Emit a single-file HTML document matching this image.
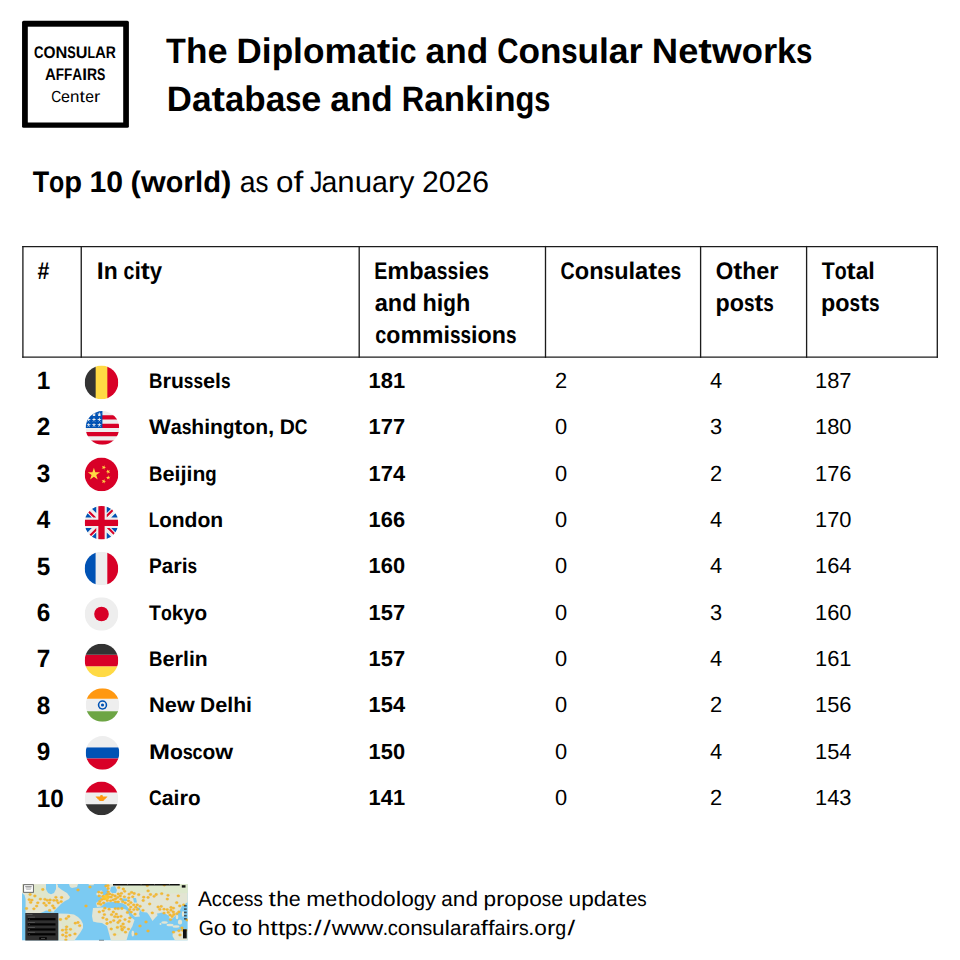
<!DOCTYPE html>
<html><head><meta charset="utf-8"><title>Diplomatic and Consular Networks - Top 10 (world)</title>
<style>
html,body{margin:0;padding:0;background:#fff;}
body{width:960px;height:960px;overflow:hidden;position:relative;font-family:"Liberation Sans",sans-serif;}
svg{position:absolute;left:0;top:0;}
svg text{font-family:"Liberation Sans",sans-serif;fill:#000;white-space:pre;text-rendering:geometricPrecision;}
</style></head><body>
<svg width="960" height="960" viewBox="0 0 960 960">
<rect x="22.05" y="20.85" width="106.85" height="106.95" rx="1.6" fill="#000"/><rect x="27.8" y="26.7" width="95.4" height="95.8" fill="#fff"/>
<g stroke="#1c1c1c" stroke-width="1.33" stroke-linecap="square">
<line x1="22.9" y1="246.6" x2="937.3" y2="246.6"/>
<line x1="22.9" y1="357.2" x2="937.3" y2="357.2"/>
<line x1="22.9" y1="246.6" x2="22.9" y2="357.2"/>
<line x1="81.25" y1="246.6" x2="81.25" y2="357.2"/>
<line x1="359.2" y1="246.6" x2="359.2" y2="357.2"/>
<line x1="545.5" y1="246.6" x2="545.5" y2="357.2"/>
<line x1="700.6" y1="246.6" x2="700.6" y2="357.2"/>
<line x1="806.6" y1="246.6" x2="806.6" y2="357.2"/>
<line x1="937.3" y1="246.6" x2="937.3" y2="357.2"/>
</g>
<defs><clipPath id="fc"><circle cx="256" cy="256" r="256"/></clipPath></defs>
<g transform="translate(84.70,365.60) scale(0.06563)"><g clip-path="url(#fc)"><path fill="#333" d="M0 0h167l32 256-32 256H0z"/><path fill="#d80027" d="M345 0h167v512H345l-32-256z"/><path fill="#ffda44" d="M167 0h178v512H167z"/></g></g>
<g transform="translate(85.60,411.10) scale(0.06563)"><g clip-path="url(#fc)"><path fill="#eee" d="M0 0h512v512H0z"/><path fill="#d80027" d="M224 64h288v64H224Zm0 128h288v64H224ZM0 320h512v64H0Zm0 128h512v64H0Z"/><path fill="#0052b4" d="M0 0h256v256H0Z"/><path fill="#eee" d="m187 243 57-41h-70l57 41-22-67zm-81 0 57-41H93l57 41-22-67zm-81 0 57-41H12l57 41-22-67zm162-81 57-41h-70l57 41-22-67zm-81 0 57-41H93l57 41-22-67zm-81 0 57-41H12l57 41-22-67Zm162-82 57-41h-70l57 41-22-67Zm-81 0 57-41H93l57 41-22-67zm-81 0 57-41H12l57 41-22-67Z"/></g></g>
<g transform="translate(84.70,457.60) scale(0.06563)"><g clip-path="url(#fc)"><path fill="#d80027" d="M0 0h512v512H0z"/><path fill="#ffda44" d="m140.1 155.8 22.1 68h71.5l-57.8 42.1 22.1 68-57.9-42-57.9 42 22.2-68-57.9-42.1H118zm163.4 240.7-16.9-20.8-25 9.7 14.5-22.5-16.9-20.9 25.9 6.9 14.6-22.5 1.4 26.8 26 6.9-25.1 9.6zm33.6-61 8-25.6-21.9-15.5 26.8-.4 7.9-25.6 8.7 25.4 26.8-.3-21.5 16 8.6 25.4-21.9-15.5zm45.3-147.6L370.6 212l19.2 18.7-26.5-3.8-11.8 24-4.6-26.4-26.6-3.8 23.8-12.5-4.6-26.5 19.2 18.7zm-78.2-73-2 26.7 24.9 10.1-26.1 6.4-1.9 26.8-14.1-22.8-26.1 6.4 17.3-20.5-14.2-22.7 24.9 10.1z"/></g></g>
<g transform="translate(84.70,506.00) scale(0.06563)"><g clip-path="url(#fc)"><path fill="#eee" d="M0 0h512v512H0z"/><path fill="#0052b4" d="M336 0v108L444 0Zm176 68L404 176h108zM0 176h108L0 68ZM68 0l108 108V0Zm108 512V404L68 512ZM0 444l108-108H0Zm512-108H404l108 108Zm-68 176L336 404v108z"/><path fill="#d80027" d="M0 0v45l131 131h45L0 0zm208 0v208H0v96h208v208h96V304h208v-96H304V0h-96zm259 0L336 131v45L512 0h-45zM176 336 0 512h45l131-131v-45zm160 0 176 176v-45L381 336h-45z"/></g></g>
<g transform="translate(84.65,551.70) scale(0.06563)"><g clip-path="url(#fc)"><path fill="#eee" d="M167 0h178v512H167z"/><path fill="#0052b4" d="M0 0h167v512H0z"/><path fill="#d80027" d="M345 0h167v512H345z"/></g></g>
<g transform="translate(84.70,597.20) scale(0.06563)"><g clip-path="url(#fc)"><path fill="#eee" d="M0 0h512v512H0z"/><circle cx="256" cy="256" r="111.3" fill="#d80027"/></g></g>
<g transform="translate(84.70,643.70) scale(0.06563)"><g clip-path="url(#fc)"><path fill="#ffda44" d="M0 345h512v167H0z"/><path fill="#d80027" d="M0 167h512v178H0z"/><path fill="#333" d="M0 0h512v167H0z"/></g></g>
<g transform="translate(85.70,688.20) scale(0.06563)"><g clip-path="url(#fc)"><path fill="#eee" d="M0 160h512v192H0z"/><path fill="#ff9811" d="M0 0h512v160H0Z"/><path fill="#6da544" d="M0 352h512v160H0z"/><circle cx="256" cy="256" r="72" fill="#0052b4"/><circle cx="256" cy="256" r="48" fill="#eee"/><circle cx="256" cy="256" r="24" fill="#0052b4"/></g></g>
<g transform="translate(85.70,736.10) scale(0.06563)"><g clip-path="url(#fc)"><path fill="#0052b4" d="M0 170h512v172H0z"/><path fill="#eee" d="M512 0v170H0V0Z"/><path fill="#d80027" d="M512 342v170H0V342Z"/></g></g>
<g transform="translate(84.70,781.60) scale(0.06563)"><g clip-path="url(#fc)"><path fill="#eee" d="M0 167h512v178H0z"/><path fill="#d80027" d="M0 0h512v167H0z"/><path fill="#333" d="M0 345h512v167H0z"/><path fill="#ff9811" d="M345 228.2h-66.8a22.3 22.3 0 0 0-44.6 0H167c0 12.3 10.7 22.3 23 22.3h-.7c0 12.3 10 22.2 22.3 22.2 0 12.3 10 22.3 22.2 22.3h44.6c12.3 0 22.3-10 22.3-22.3 12.3 0 22.2-9.9 22.2-22.2h-.7c12.3 0 23-10 23-22.3z"/></g></g>
<g transform="translate(22.0,884.0)">
<defs><clipPath id="mapc"><rect x="0" y="0" width="165.8" height="56.6"/></clipPath></defs>
<g clip-path="url(#mapc)">
<rect x="0" y="0" width="165.8" height="56.6" fill="#7bcaf2"/>
<polygon points="0.0,0.0 24.0,0.0 24.0,6.0 26.0,9.0 29.0,10.3 32.0,9.0 34.0,5.0 34.0,0.0 36.0,0.0 36.0,3.0 40.0,6.0 45.0,9.0 48.0,13.0 47.0,15.0 43.0,17.0 39.0,20.0 36.0,23.0 33.0,26.0 31.5,28.0 28.0,27.0 24.0,26.5 21.0,28.0 17.0,29.5 3.6,29.5 3.6,15.0 2.5,11.0 0.0,9.0" fill="#e3e5d3"/>
<polygon points="47.0,0.0 56.0,0.0 55.0,3.0 50.0,4.0 48.0,3.0" fill="#e3e5d3"/>
<polygon points="66.5,0.0 72.0,0.0 71.5,1.3 67.0,1.3" fill="#e3e5d3"/>
<polygon points="29.0,28.5 34.0,29.0 36.0,30.5 31.0,30.0" fill="#e3e5d3"/>
<polygon points="36.3,29.5 46.0,29.8 52.0,30.5 56.0,33.0 59.0,36.0 61.0,40.0 61.0,44.0 58.0,49.0 55.0,53.0 52.0,57.0 36.3,57.0" fill="#e3e5d3"/>
<polygon points="85.0,0.0 165.9,0.0 165.9,18.0 160.0,22.0 157.0,28.0 154.0,31.0 151.0,34.0 148.0,36.0 147.0,32.0 144.0,30.0 141.0,29.0 139.0,28.4 134.0,33.0 130.5,37.0 127.0,31.0 125.0,28.4 120.0,28.0 118.0,26.0 117.0,30.0 118.0,32.6 113.0,33.0 110.0,30.0 107.0,25.0 104.0,21.0 100.0,19.5 92.0,18.0 86.0,18.5 82.0,20.0 79.0,22.5 75.0,23.0 74.0,19.0 78.0,16.0 80.0,13.0 83.0,11.0 86.0,10.0 85.0,6.0 84.0,3.0" fill="#e3e5d3"/>
<polygon points="71.0,24.0 80.0,23.5 88.0,24.0 95.0,24.0 101.0,24.5 105.0,26.0 108.0,30.0 110.0,34.0 112.5,36.0 110.4,42.3 107.0,48.0 104.3,57.0 89.0,57.0 85.0,42.3 80.0,39.0 75.0,38.5 71.0,37.5 70.0,32.0" fill="#e3e5d3"/>
<polygon points="76.5,7.0 80.0,6.5 81.0,9.0 80.5,12.7 77.0,12.5 76.5,10.0" fill="#e3e5d3"/>
<polygon points="151.0,48.0 158.0,46.5 165.9,45.5 165.9,56.6 153.0,56.6 150.5,52.0" fill="#e3e5d3"/>
<ellipse cx="110.8" cy="49.5" rx="1.3" ry="3.0" fill="#e3e5d3"/>
<ellipse cx="142.5" cy="38.5" rx="3.2" ry="1.2" fill="#e3e5d3"/>
<ellipse cx="148" cy="41" rx="3.5" ry="1.3" fill="#e3e5d3"/>
<ellipse cx="154" cy="42.5" rx="3.5" ry="1.2" fill="#e3e5d3"/>
<ellipse cx="158" cy="38" rx="2.2" ry="2.5" fill="#e3e5d3"/>
<ellipse cx="155" cy="33" rx="1.3" ry="2.2" fill="#e3e5d3"/>
<ellipse cx="161" cy="30" rx="1.2" ry="3.0" fill="#e3e5d3"/>
<ellipse cx="75.5" cy="10" rx="1.2" ry="1.5" fill="#e3e5d3"/>
<ellipse cx="138.5" cy="40" rx="1.0" ry="1.0" fill="#e3e5d3"/>
<polygon points="96,0 165.9,0 165.9,9 140,9.5 120,8.5 104,8 98,5" fill="#dbe8cb" opacity="0.9"/>
<polygon points="3,2 22,1 27,11 30,14 18,16 6,14" fill="#dde7c8" opacity="0.7"/>
<polygon points="38,34 52,36 56,42 50,50 42,48" fill="#dde7c8" opacity="0.7"/>
<polygon points="88,40 100,38 104,46 96,52 90,50" fill="#dde7c8" opacity="0.7"/>
<polygon points="35.0,0.0 47.0,0.0 46.0,2.5 41.0,3.2 37.0,2.5" fill="#7bcaf2"/>
<polygon points="89.0,3.0 93.0,2.0 95.0,6.0 94.0,9.0 90.0,9.0 88.0,7.0" fill="#7bcaf2"/>
<polygon points="81.0,5.5 86.0,4.5 86.0,9.0 84.0,10.5 81.0,10.5" fill="#7bcaf2"/>
<polygon points="83.0,18.6 92.0,18.2 101.0,19.5 104.0,22.0 101.0,24.0 95.0,23.6 88.0,23.6 84.0,22.0" fill="#7bcaf2"/>
<polygon points="99.0,14.5 105.0,14.5 105.5,17.0 99.5,17.0" fill="#7bcaf2"/>
<polygon points="111.0,14.0 114.0,14.0 115.0,18.5 112.0,18.5" fill="#7bcaf2"/>
<polygon points="104.0,25.5 106.0,25.5 110.5,33.8 109.0,34.2" fill="#7bcaf2"/>
<polygon points="114.5,23.0 118.0,24.0 118.5,26.5 116.0,26.0" fill="#7bcaf2"/>
<polygon points="135.0,29.5 139.0,29.0 140.0,34.0 137.0,36.0" fill="#7bcaf2"/>
<ellipse cx="79.7" cy="15.5" rx="1.45" ry="1.15" fill="#f2bd2e" stroke="#eba43a" stroke-width="0.35"/>
<ellipse cx="93.0" cy="11.9" rx="1.45" ry="1.15" fill="#f2bd2e" stroke="#eba43a" stroke-width="0.35"/>
<ellipse cx="79.7" cy="8.8" rx="1.45" ry="1.15" fill="#f2bd2e" stroke="#eba43a" stroke-width="0.35"/>
<ellipse cx="91.2" cy="15.9" rx="1.45" ry="1.15" fill="#f2bd2e" stroke="#eba43a" stroke-width="0.35"/>
<ellipse cx="96.2" cy="17.9" rx="1.45" ry="1.15" fill="#f2bd2e" stroke="#eba43a" stroke-width="0.35"/>
<ellipse cx="86.4" cy="12.9" rx="1.45" ry="1.15" fill="#f2bd2e" stroke="#eba43a" stroke-width="0.35"/>
<ellipse cx="102.4" cy="12.8" rx="1.45" ry="1.15" fill="#f2bd2e" stroke="#eba43a" stroke-width="0.35"/>
<ellipse cx="88.6" cy="16.8" rx="1.45" ry="1.15" fill="#f2bd2e" stroke="#eba43a" stroke-width="0.35"/>
<ellipse cx="93.6" cy="14.8" rx="1.45" ry="1.15" fill="#f2bd2e" stroke="#eba43a" stroke-width="0.35"/>
<ellipse cx="82.3" cy="14.9" rx="1.45" ry="1.15" fill="#f2bd2e" stroke="#eba43a" stroke-width="0.35"/>
<ellipse cx="106.8" cy="13.8" rx="1.45" ry="1.15" fill="#f2bd2e" stroke="#eba43a" stroke-width="0.35"/>
<ellipse cx="85.3" cy="16.6" rx="1.45" ry="1.15" fill="#f2bd2e" stroke="#eba43a" stroke-width="0.35"/>
<ellipse cx="87.6" cy="10.0" rx="1.45" ry="1.15" fill="#f2bd2e" stroke="#eba43a" stroke-width="0.35"/>
<ellipse cx="90.4" cy="10.8" rx="1.45" ry="1.15" fill="#f2bd2e" stroke="#eba43a" stroke-width="0.35"/>
<ellipse cx="98.2" cy="12.0" rx="1.45" ry="1.15" fill="#f2bd2e" stroke="#eba43a" stroke-width="0.35"/>
<ellipse cx="80.9" cy="12.4" rx="1.45" ry="1.15" fill="#f2bd2e" stroke="#eba43a" stroke-width="0.35"/>
<ellipse cx="96.3" cy="10.0" rx="1.45" ry="1.15" fill="#f2bd2e" stroke="#eba43a" stroke-width="0.35"/>
<ellipse cx="86.1" cy="4.5" rx="1.45" ry="1.15" fill="#f2bd2e" stroke="#eba43a" stroke-width="0.35"/>
<ellipse cx="78.8" cy="20.4" rx="1.45" ry="1.15" fill="#f2bd2e" stroke="#eba43a" stroke-width="0.35"/>
<ellipse cx="95.7" cy="13.3" rx="1.45" ry="1.15" fill="#f2bd2e" stroke="#eba43a" stroke-width="0.35"/>
<ellipse cx="77.3" cy="27.9" rx="1.45" ry="1.15" fill="#f2bd2e" stroke="#eba43a" stroke-width="0.35"/>
<ellipse cx="86.2" cy="7.8" rx="1.45" ry="1.15" fill="#f2bd2e" stroke="#eba43a" stroke-width="0.35"/>
<ellipse cx="81.6" cy="18.9" rx="1.45" ry="1.15" fill="#f2bd2e" stroke="#eba43a" stroke-width="0.35"/>
<ellipse cx="77.8" cy="17.5" rx="1.45" ry="1.15" fill="#f2bd2e" stroke="#eba43a" stroke-width="0.35"/>
<ellipse cx="76.8" cy="8.1" rx="1.45" ry="1.15" fill="#f2bd2e" stroke="#eba43a" stroke-width="0.35"/>
<ellipse cx="89.1" cy="13.1" rx="1.45" ry="1.15" fill="#f2bd2e" stroke="#eba43a" stroke-width="0.35"/>
<ellipse cx="77.2" cy="11.9" rx="1.45" ry="1.15" fill="#f2bd2e" stroke="#eba43a" stroke-width="0.35"/>
<ellipse cx="85.0" cy="10.7" rx="1.45" ry="1.15" fill="#f2bd2e" stroke="#eba43a" stroke-width="0.35"/>
<ellipse cx="91.3" cy="28.0" rx="1.45" ry="1.15" fill="#f2bd2e" stroke="#eba43a" stroke-width="0.35"/>
<ellipse cx="96.8" cy="3.7" rx="1.45" ry="1.15" fill="#f2bd2e" stroke="#eba43a" stroke-width="0.35"/>
<ellipse cx="100.7" cy="17.7" rx="1.45" ry="1.15" fill="#f2bd2e" stroke="#eba43a" stroke-width="0.35"/>
<ellipse cx="87.1" cy="25.2" rx="1.45" ry="1.15" fill="#f2bd2e" stroke="#eba43a" stroke-width="0.35"/>
<ellipse cx="99.4" cy="9.4" rx="1.45" ry="1.15" fill="#f2bd2e" stroke="#eba43a" stroke-width="0.35"/>
<ellipse cx="86.0" cy="1.7" rx="1.45" ry="1.15" fill="#f2bd2e" stroke="#eba43a" stroke-width="0.35"/>
<ellipse cx="82.9" cy="24.2" rx="1.45" ry="1.15" fill="#f2bd2e" stroke="#eba43a" stroke-width="0.35"/>
<ellipse cx="93.5" cy="17.8" rx="1.45" ry="1.15" fill="#f2bd2e" stroke="#eba43a" stroke-width="0.35"/>
<ellipse cx="102.7" cy="7.3" rx="1.45" ry="1.15" fill="#f2bd2e" stroke="#eba43a" stroke-width="0.35"/>
<ellipse cx="101.3" cy="5.0" rx="1.45" ry="1.15" fill="#f2bd2e" stroke="#eba43a" stroke-width="0.35"/>
<ellipse cx="106.5" cy="16.8" rx="1.45" ry="1.15" fill="#f2bd2e" stroke="#eba43a" stroke-width="0.35"/>
<ellipse cx="76.4" cy="19.7" rx="1.45" ry="1.15" fill="#f2bd2e" stroke="#eba43a" stroke-width="0.35"/>
<ellipse cx="103.2" cy="18.9" rx="1.45" ry="1.15" fill="#f2bd2e" stroke="#eba43a" stroke-width="0.35"/>
<ellipse cx="98.9" cy="15.2" rx="1.45" ry="1.15" fill="#f2bd2e" stroke="#eba43a" stroke-width="0.35"/>
<ellipse cx="108.8" cy="23.1" rx="1.45" ry="1.15" fill="#f2bd2e" stroke="#eba43a" stroke-width="0.35"/>
<ellipse cx="93.3" cy="24.6" rx="1.45" ry="1.15" fill="#f2bd2e" stroke="#eba43a" stroke-width="0.35"/>
<ellipse cx="96.2" cy="24.7" rx="1.45" ry="1.15" fill="#f2bd2e" stroke="#eba43a" stroke-width="0.35"/>
<ellipse cx="106.4" cy="20.6" rx="1.45" ry="1.15" fill="#f2bd2e" stroke="#eba43a" stroke-width="0.35"/>
<ellipse cx="99.9" cy="24.5" rx="1.45" ry="1.15" fill="#f2bd2e" stroke="#eba43a" stroke-width="0.35"/>
<ellipse cx="108.9" cy="18.7" rx="1.45" ry="1.15" fill="#f2bd2e" stroke="#eba43a" stroke-width="0.35"/>
<ellipse cx="110.7" cy="12.8" rx="1.45" ry="1.15" fill="#f2bd2e" stroke="#eba43a" stroke-width="0.35"/>
<ellipse cx="111.8" cy="25.6" rx="1.45" ry="1.15" fill="#f2bd2e" stroke="#eba43a" stroke-width="0.35"/>
<ellipse cx="4.5" cy="24.5" rx="1.45" ry="1.15" fill="#f2bd2e" stroke="#eba43a" stroke-width="0.35"/>
<ellipse cx="32.1" cy="24.0" rx="1.45" ry="1.15" fill="#f2bd2e" stroke="#eba43a" stroke-width="0.35"/>
<ellipse cx="28.1" cy="16.0" rx="1.45" ry="1.15" fill="#f2bd2e" stroke="#eba43a" stroke-width="0.35"/>
<ellipse cx="27.6" cy="26.4" rx="1.45" ry="1.15" fill="#f2bd2e" stroke="#eba43a" stroke-width="0.35"/>
<ellipse cx="39.2" cy="17.6" rx="1.45" ry="1.15" fill="#f2bd2e" stroke="#eba43a" stroke-width="0.35"/>
<ellipse cx="36.2" cy="18.8" rx="1.45" ry="1.15" fill="#f2bd2e" stroke="#eba43a" stroke-width="0.35"/>
<ellipse cx="22.9" cy="15.3" rx="1.45" ry="1.15" fill="#f2bd2e" stroke="#eba43a" stroke-width="0.35"/>
<ellipse cx="25.3" cy="16.3" rx="1.45" ry="1.15" fill="#f2bd2e" stroke="#eba43a" stroke-width="0.35"/>
<ellipse cx="12.9" cy="12.0" rx="1.45" ry="1.15" fill="#f2bd2e" stroke="#eba43a" stroke-width="0.35"/>
<ellipse cx="39.6" cy="13.5" rx="1.45" ry="1.15" fill="#f2bd2e" stroke="#eba43a" stroke-width="0.35"/>
<ellipse cx="15.8" cy="18.8" rx="1.45" ry="1.15" fill="#f2bd2e" stroke="#eba43a" stroke-width="0.35"/>
<ellipse cx="24.0" cy="21.4" rx="1.45" ry="1.15" fill="#f2bd2e" stroke="#eba43a" stroke-width="0.35"/>
<ellipse cx="18.4" cy="15.1" rx="1.45" ry="1.15" fill="#f2bd2e" stroke="#eba43a" stroke-width="0.35"/>
<ellipse cx="27.2" cy="18.9" rx="1.45" ry="1.15" fill="#f2bd2e" stroke="#eba43a" stroke-width="0.35"/>
<ellipse cx="11.9" cy="24.8" rx="1.45" ry="1.15" fill="#f2bd2e" stroke="#eba43a" stroke-width="0.35"/>
<ellipse cx="22.0" cy="19.2" rx="1.45" ry="1.15" fill="#f2bd2e" stroke="#eba43a" stroke-width="0.35"/>
<ellipse cx="33.9" cy="13.3" rx="1.45" ry="1.15" fill="#f2bd2e" stroke="#eba43a" stroke-width="0.35"/>
<ellipse cx="34.8" cy="16.5" rx="1.45" ry="1.15" fill="#f2bd2e" stroke="#eba43a" stroke-width="0.35"/>
<ellipse cx="7.2" cy="15.7" rx="1.45" ry="1.15" fill="#f2bd2e" stroke="#eba43a" stroke-width="0.35"/>
<ellipse cx="31.8" cy="16.3" rx="1.45" ry="1.15" fill="#f2bd2e" stroke="#eba43a" stroke-width="0.35"/>
<ellipse cx="9.9" cy="16.1" rx="1.45" ry="1.15" fill="#f2bd2e" stroke="#eba43a" stroke-width="0.35"/>
<ellipse cx="20.8" cy="5.5" rx="1.45" ry="1.15" fill="#f2bd2e" stroke="#eba43a" stroke-width="0.35"/>
<ellipse cx="30.7" cy="21.8" rx="1.45" ry="1.15" fill="#f2bd2e" stroke="#eba43a" stroke-width="0.35"/>
<ellipse cx="14.6" cy="22.1" rx="1.45" ry="1.15" fill="#f2bd2e" stroke="#eba43a" stroke-width="0.35"/>
<ellipse cx="8.7" cy="18.4" rx="1.45" ry="1.15" fill="#f2bd2e" stroke="#eba43a" stroke-width="0.35"/>
<ellipse cx="8.1" cy="10.5" rx="1.45" ry="1.15" fill="#f2bd2e" stroke="#eba43a" stroke-width="0.35"/>
<ellipse cx="38.4" cy="35.5" rx="1.45" ry="1.15" fill="#f2bd2e" stroke="#eba43a" stroke-width="0.35"/>
<ellipse cx="48.5" cy="45.3" rx="1.45" ry="1.15" fill="#f2bd2e" stroke="#eba43a" stroke-width="0.35"/>
<ellipse cx="44.3" cy="34.6" rx="1.45" ry="1.15" fill="#f2bd2e" stroke="#eba43a" stroke-width="0.35"/>
<ellipse cx="56.0" cy="38.5" rx="1.45" ry="1.15" fill="#f2bd2e" stroke="#eba43a" stroke-width="0.35"/>
<ellipse cx="44.1" cy="45.6" rx="1.45" ry="1.15" fill="#f2bd2e" stroke="#eba43a" stroke-width="0.35"/>
<ellipse cx="57.7" cy="41.7" rx="1.45" ry="1.15" fill="#f2bd2e" stroke="#eba43a" stroke-width="0.35"/>
<ellipse cx="44.3" cy="48.7" rx="1.45" ry="1.15" fill="#f2bd2e" stroke="#eba43a" stroke-width="0.35"/>
<ellipse cx="53.0" cy="49.9" rx="1.45" ry="1.15" fill="#f2bd2e" stroke="#eba43a" stroke-width="0.35"/>
<ellipse cx="40.5" cy="46.2" rx="1.45" ry="1.15" fill="#f2bd2e" stroke="#eba43a" stroke-width="0.35"/>
<ellipse cx="40.8" cy="51.0" rx="1.45" ry="1.15" fill="#f2bd2e" stroke="#eba43a" stroke-width="0.35"/>
<ellipse cx="47.9" cy="51.2" rx="1.45" ry="1.15" fill="#f2bd2e" stroke="#eba43a" stroke-width="0.35"/>
<ellipse cx="43.9" cy="55.9" rx="1.45" ry="1.15" fill="#f2bd2e" stroke="#eba43a" stroke-width="0.35"/>
<ellipse cx="53.3" cy="39.2" rx="1.45" ry="1.15" fill="#f2bd2e" stroke="#eba43a" stroke-width="0.35"/>
<ellipse cx="46.6" cy="32.5" rx="1.45" ry="1.15" fill="#f2bd2e" stroke="#eba43a" stroke-width="0.35"/>
<ellipse cx="44.6" cy="42.8" rx="1.45" ry="1.15" fill="#f2bd2e" stroke="#eba43a" stroke-width="0.35"/>
<ellipse cx="44.1" cy="52.4" rx="1.45" ry="1.15" fill="#f2bd2e" stroke="#eba43a" stroke-width="0.35"/>
<ellipse cx="89.5" cy="30.7" rx="1.45" ry="1.15" fill="#f2bd2e" stroke="#eba43a" stroke-width="0.35"/>
<ellipse cx="88.5" cy="38.2" rx="1.45" ry="1.15" fill="#f2bd2e" stroke="#eba43a" stroke-width="0.35"/>
<ellipse cx="99.0" cy="32.3" rx="1.45" ry="1.15" fill="#f2bd2e" stroke="#eba43a" stroke-width="0.35"/>
<ellipse cx="85.0" cy="39.5" rx="1.45" ry="1.15" fill="#f2bd2e" stroke="#eba43a" stroke-width="0.35"/>
<ellipse cx="82.4" cy="30.6" rx="1.45" ry="1.15" fill="#f2bd2e" stroke="#eba43a" stroke-width="0.35"/>
<ellipse cx="101.1" cy="40.0" rx="1.45" ry="1.15" fill="#f2bd2e" stroke="#eba43a" stroke-width="0.35"/>
<ellipse cx="107.0" cy="37.6" rx="1.45" ry="1.15" fill="#f2bd2e" stroke="#eba43a" stroke-width="0.35"/>
<ellipse cx="103.0" cy="35.6" rx="1.45" ry="1.15" fill="#f2bd2e" stroke="#eba43a" stroke-width="0.35"/>
<ellipse cx="95.4" cy="43.4" rx="1.45" ry="1.15" fill="#f2bd2e" stroke="#eba43a" stroke-width="0.35"/>
<ellipse cx="99.2" cy="42.3" rx="1.45" ry="1.15" fill="#f2bd2e" stroke="#eba43a" stroke-width="0.35"/>
<ellipse cx="92.8" cy="32.7" rx="1.45" ry="1.15" fill="#f2bd2e" stroke="#eba43a" stroke-width="0.35"/>
<ellipse cx="100.2" cy="46.0" rx="1.45" ry="1.15" fill="#f2bd2e" stroke="#eba43a" stroke-width="0.35"/>
<ellipse cx="81.2" cy="26.8" rx="1.45" ry="1.15" fill="#f2bd2e" stroke="#eba43a" stroke-width="0.35"/>
<ellipse cx="92.6" cy="50.6" rx="1.45" ry="1.15" fill="#f2bd2e" stroke="#eba43a" stroke-width="0.35"/>
<ellipse cx="113.0" cy="30.2" rx="1.45" ry="1.15" fill="#f2bd2e" stroke="#eba43a" stroke-width="0.35"/>
<ellipse cx="81.0" cy="33.8" rx="1.45" ry="1.15" fill="#f2bd2e" stroke="#eba43a" stroke-width="0.35"/>
<ellipse cx="106.5" cy="45.1" rx="1.45" ry="1.15" fill="#f2bd2e" stroke="#eba43a" stroke-width="0.35"/>
<ellipse cx="89.2" cy="45.0" rx="1.45" ry="1.15" fill="#f2bd2e" stroke="#eba43a" stroke-width="0.35"/>
<ellipse cx="102.2" cy="43.3" rx="1.45" ry="1.15" fill="#f2bd2e" stroke="#eba43a" stroke-width="0.35"/>
<ellipse cx="96.0" cy="38.5" rx="1.45" ry="1.15" fill="#f2bd2e" stroke="#eba43a" stroke-width="0.35"/>
<ellipse cx="84.7" cy="35.5" rx="1.45" ry="1.15" fill="#f2bd2e" stroke="#eba43a" stroke-width="0.35"/>
<ellipse cx="94.3" cy="30.1" rx="1.45" ry="1.15" fill="#f2bd2e" stroke="#eba43a" stroke-width="0.35"/>
<ellipse cx="95.8" cy="33.0" rx="1.45" ry="1.15" fill="#f2bd2e" stroke="#eba43a" stroke-width="0.35"/>
<ellipse cx="91.7" cy="36.6" rx="1.45" ry="1.15" fill="#f2bd2e" stroke="#eba43a" stroke-width="0.35"/>
<ellipse cx="103.5" cy="48.2" rx="1.45" ry="1.15" fill="#f2bd2e" stroke="#eba43a" stroke-width="0.35"/>
<ellipse cx="97.8" cy="36.7" rx="1.45" ry="1.15" fill="#f2bd2e" stroke="#eba43a" stroke-width="0.35"/>
<ellipse cx="107.9" cy="33.9" rx="1.45" ry="1.15" fill="#f2bd2e" stroke="#eba43a" stroke-width="0.35"/>
<ellipse cx="115.4" cy="25.5" rx="1.45" ry="1.15" fill="#f2bd2e" stroke="#eba43a" stroke-width="0.35"/>
<ellipse cx="109.2" cy="28.1" rx="1.45" ry="1.15" fill="#f2bd2e" stroke="#eba43a" stroke-width="0.35"/>
<ellipse cx="118.1" cy="22.3" rx="1.45" ry="1.15" fill="#f2bd2e" stroke="#eba43a" stroke-width="0.35"/>
<ellipse cx="111.7" cy="20.9" rx="1.45" ry="1.15" fill="#f2bd2e" stroke="#eba43a" stroke-width="0.35"/>
<ellipse cx="121.0" cy="26.3" rx="1.45" ry="1.15" fill="#f2bd2e" stroke="#eba43a" stroke-width="0.35"/>
<ellipse cx="115.2" cy="20.9" rx="1.45" ry="1.15" fill="#f2bd2e" stroke="#eba43a" stroke-width="0.35"/>
<ellipse cx="113.7" cy="23.2" rx="1.45" ry="1.15" fill="#f2bd2e" stroke="#eba43a" stroke-width="0.35"/>
<ellipse cx="107.6" cy="25.6" rx="1.45" ry="1.15" fill="#f2bd2e" stroke="#eba43a" stroke-width="0.35"/>
<ellipse cx="105.4" cy="28.5" rx="1.45" ry="1.15" fill="#f2bd2e" stroke="#eba43a" stroke-width="0.35"/>
<ellipse cx="151.5" cy="24.1" rx="1.45" ry="1.15" fill="#f2bd2e" stroke="#eba43a" stroke-width="0.35"/>
<ellipse cx="142.0" cy="25.2" rx="1.45" ry="1.15" fill="#f2bd2e" stroke="#eba43a" stroke-width="0.35"/>
<ellipse cx="136.1" cy="23.0" rx="1.45" ry="1.15" fill="#f2bd2e" stroke="#eba43a" stroke-width="0.35"/>
<ellipse cx="139.2" cy="22.4" rx="1.45" ry="1.15" fill="#f2bd2e" stroke="#eba43a" stroke-width="0.35"/>
<ellipse cx="116.7" cy="10.7" rx="1.45" ry="1.15" fill="#f2bd2e" stroke="#eba43a" stroke-width="0.35"/>
<ellipse cx="139.7" cy="9.7" rx="1.45" ry="1.15" fill="#f2bd2e" stroke="#eba43a" stroke-width="0.35"/>
<ellipse cx="145.3" cy="15.1" rx="1.45" ry="1.15" fill="#f2bd2e" stroke="#eba43a" stroke-width="0.35"/>
<ellipse cx="128.5" cy="10.5" rx="1.45" ry="1.15" fill="#f2bd2e" stroke="#eba43a" stroke-width="0.35"/>
<ellipse cx="130.3" cy="28.9" rx="1.45" ry="1.15" fill="#f2bd2e" stroke="#eba43a" stroke-width="0.35"/>
<ellipse cx="121.7" cy="13.2" rx="1.45" ry="1.15" fill="#f2bd2e" stroke="#eba43a" stroke-width="0.35"/>
<ellipse cx="157.8" cy="21.9" rx="1.45" ry="1.15" fill="#f2bd2e" stroke="#eba43a" stroke-width="0.35"/>
<ellipse cx="146.0" cy="11.3" rx="1.45" ry="1.15" fill="#f2bd2e" stroke="#eba43a" stroke-width="0.35"/>
<ellipse cx="121.2" cy="16.5" rx="1.45" ry="1.15" fill="#f2bd2e" stroke="#eba43a" stroke-width="0.35"/>
<ellipse cx="132.1" cy="12.3" rx="1.45" ry="1.15" fill="#f2bd2e" stroke="#eba43a" stroke-width="0.35"/>
<ellipse cx="154.7" cy="18.7" rx="1.45" ry="1.15" fill="#f2bd2e" stroke="#eba43a" stroke-width="0.35"/>
<ellipse cx="127.7" cy="20.0" rx="1.45" ry="1.15" fill="#f2bd2e" stroke="#eba43a" stroke-width="0.35"/>
<ellipse cx="156.3" cy="11.9" rx="1.45" ry="1.15" fill="#f2bd2e" stroke="#eba43a" stroke-width="0.35"/>
<ellipse cx="134.2" cy="10.5" rx="1.45" ry="1.15" fill="#f2bd2e" stroke="#eba43a" stroke-width="0.35"/>
<ellipse cx="137.8" cy="25.4" rx="1.45" ry="1.15" fill="#f2bd2e" stroke="#eba43a" stroke-width="0.35"/>
<ellipse cx="126.1" cy="13.4" rx="1.45" ry="1.15" fill="#f2bd2e" stroke="#eba43a" stroke-width="0.35"/>
<ellipse cx="149.0" cy="23.4" rx="1.45" ry="1.15" fill="#f2bd2e" stroke="#eba43a" stroke-width="0.35"/>
<ellipse cx="145.2" cy="25.6" rx="1.45" ry="1.15" fill="#f2bd2e" stroke="#eba43a" stroke-width="0.35"/>
<ellipse cx="148.0" cy="31.0" rx="1.45" ry="1.15" fill="#f2bd2e" stroke="#eba43a" stroke-width="0.35"/>
<ellipse cx="142.0" cy="29.1" rx="1.45" ry="1.15" fill="#f2bd2e" stroke="#eba43a" stroke-width="0.35"/>
<ellipse cx="151.3" cy="27.9" rx="1.45" ry="1.15" fill="#f2bd2e" stroke="#eba43a" stroke-width="0.35"/>
<ellipse cx="149.0" cy="26.2" rx="1.45" ry="1.15" fill="#f2bd2e" stroke="#eba43a" stroke-width="0.35"/>
<ellipse cx="156.9" cy="27.9" rx="1.45" ry="1.15" fill="#f2bd2e" stroke="#eba43a" stroke-width="0.35"/>
<ellipse cx="146.3" cy="28.4" rx="1.45" ry="1.15" fill="#f2bd2e" stroke="#eba43a" stroke-width="0.35"/>
<ellipse cx="154.9" cy="29.7" rx="1.45" ry="1.15" fill="#f2bd2e" stroke="#eba43a" stroke-width="0.35"/>
<ellipse cx="151.8" cy="30.5" rx="1.45" ry="1.15" fill="#f2bd2e" stroke="#eba43a" stroke-width="0.35"/>
<ellipse cx="161.7" cy="20.8" rx="1.45" ry="1.15" fill="#f2bd2e" stroke="#eba43a" stroke-width="0.35"/>
<ellipse cx="150.1" cy="32.5" rx="1.45" ry="1.15" fill="#f2bd2e" stroke="#eba43a" stroke-width="0.35"/>
<ellipse cx="148.5" cy="35.6" rx="1.45" ry="1.15" fill="#f2bd2e" stroke="#eba43a" stroke-width="0.35"/>
<ellipse cx="160.6" cy="46.3" rx="1.45" ry="1.15" fill="#f2bd2e" stroke="#eba43a" stroke-width="0.35"/>
<ellipse cx="156.9" cy="46.8" rx="1.45" ry="1.15" fill="#f2bd2e" stroke="#eba43a" stroke-width="0.35"/>
<ellipse cx="151.5" cy="48.2" rx="1.45" ry="1.15" fill="#f2bd2e" stroke="#eba43a" stroke-width="0.35"/>
<ellipse cx="163.7" cy="46.3" rx="1.45" ry="1.15" fill="#f2bd2e" stroke="#eba43a" stroke-width="0.35"/>
<ellipse cx="125.3" cy="1.6" rx="1.45" ry="1.15" fill="#f2bd2e" stroke="#eba43a" stroke-width="0.35"/>
<ellipse cx="109.6" cy="8.4" rx="1.45" ry="1.15" fill="#f2bd2e" stroke="#eba43a" stroke-width="0.35"/>
<ellipse cx="142.3" cy="1.1" rx="1.45" ry="1.15" fill="#f2bd2e" stroke="#eba43a" stroke-width="0.35"/>
<ellipse cx="126.1" cy="6.9" rx="1.45" ry="1.15" fill="#f2bd2e" stroke="#eba43a" stroke-width="0.35"/>
<ellipse cx="107.1" cy="10.1" rx="1.45" ry="1.15" fill="#f2bd2e" stroke="#eba43a" stroke-width="0.35"/>
<ellipse cx="112.2" cy="9.5" rx="1.45" ry="1.15" fill="#f2bd2e" stroke="#eba43a" stroke-width="0.35"/>
<ellipse cx="64.0" cy="22.0" rx="1.45" ry="1.15" fill="#f2bd2e" stroke="#eba43a" stroke-width="0.35"/>
<ellipse cx="56.0" cy="6.0" rx="1.45" ry="1.15" fill="#f2bd2e" stroke="#eba43a" stroke-width="0.35"/>
<ellipse cx="68.0" cy="3.0" rx="1.45" ry="1.15" fill="#f2bd2e" stroke="#eba43a" stroke-width="0.35"/>
<ellipse cx="84.0" cy="2.0" rx="1.45" ry="1.15" fill="#f2bd2e" stroke="#eba43a" stroke-width="0.35"/>
<ellipse cx="100.0" cy="45.0" rx="1.45" ry="1.15" fill="#f2bd2e" stroke="#eba43a" stroke-width="0.35"/>
<ellipse cx="118.0" cy="42.0" rx="1.45" ry="1.15" fill="#f2bd2e" stroke="#eba43a" stroke-width="0.35"/>
<ellipse cx="114.0" cy="50.0" rx="1.45" ry="1.15" fill="#f2bd2e" stroke="#eba43a" stroke-width="0.35"/>
<ellipse cx="160.0" cy="44.0" rx="1.45" ry="1.15" fill="#f2bd2e" stroke="#eba43a" stroke-width="0.35"/>
<ellipse cx="158.0" cy="51.0" rx="1.45" ry="1.15" fill="#f2bd2e" stroke="#eba43a" stroke-width="0.35"/>
<ellipse cx="165.0" cy="36.0" rx="1.45" ry="1.15" fill="#f2bd2e" stroke="#eba43a" stroke-width="0.35"/>
<ellipse cx="124.0" cy="38.0" rx="1.45" ry="1.15" fill="#f2bd2e" stroke="#eba43a" stroke-width="0.35"/>
<ellipse cx="126.0" cy="47.0" rx="1.45" ry="1.15" fill="#f2bd2e" stroke="#eba43a" stroke-width="0.35"/>
<ellipse cx="84" cy="13.5" rx="3.5" ry="2.4" fill="#fbc52a" opacity="0.9"/>
<rect x="1.6" y="0.7" width="9.8" height="7.6" fill="#fff" stroke="#5a5a5a" stroke-width="0.9"/>
<rect x="3.2" y="2.2" width="6.5" height="0.7" fill="#777"/><rect x="3.6" y="3.6" width="5.8" height="0.7" fill="#777"/><rect x="4.2" y="5.4" width="4.6" height="0.6" fill="#aaa"/>
<rect x="91" y="0" width="66.7" height="1.5" fill="#111"/>
<rect x="105.2" y="0" width="0.5" height="1.5" fill="#777"/>
<rect x="118.8" y="0" width="0.5" height="1.5" fill="#777"/>
<rect x="132.3" y="0" width="0.5" height="1.5" fill="#777"/>
<rect x="147.1" y="0" width="0.5" height="1.5" fill="#777"/>
<rect x="159.8" y="1.2" width="3.7" height="2.4" fill="#111"/>
<rect x="162" y="21" width="2.7" height="1.6" fill="#333" opacity="0.8"/>
<rect x="162" y="24.3" width="2.7" height="1.6" fill="#333" opacity="0.8"/>
<rect x="162" y="27.6" width="2.7" height="1.6" fill="#333" opacity="0.8"/>
<rect x="162" y="30.9" width="2.7" height="1.6" fill="#333" opacity="0.8"/>
<rect x="162" y="34" width="2.7" height="1.6" fill="#333" opacity="0.8"/>
<rect x="161" y="45.3" width="3.7" height="9.1" fill="#111"/>
<rect x="77" y="55.9" width="5" height="0.8" fill="#222"/>
<rect x="3.3" y="29" width="33" height="28" fill="#303030"/>
<rect x="4.5" y="30" width="6" height="0.6" fill="#888" opacity="0.7"/>
<rect x="5.7" y="34.1" width="27.8" height="2.2" fill="#030303"/>
<rect x="5.9" y="32.800000000000004" width="7" height="0.6" fill="#999" opacity="0.55"/>
<rect x="6.8" y="34.9" width="1" height="0.6" fill="#aaa" opacity="0.6"/>
<rect x="5.7" y="39.3" width="27.8" height="2.2" fill="#030303"/>
<rect x="5.9" y="38.0" width="7" height="0.6" fill="#999" opacity="0.55"/>
<rect x="6.8" y="40.099999999999994" width="1" height="0.6" fill="#aaa" opacity="0.6"/>
<rect x="5.7" y="44.4" width="27.8" height="2.2" fill="#030303"/>
<rect x="5.9" y="43.1" width="7" height="0.6" fill="#999" opacity="0.55"/>
<rect x="6.8" y="45.199999999999996" width="1" height="0.6" fill="#aaa" opacity="0.6"/>
<rect x="5.7" y="49.2" width="27.8" height="2.2" fill="#030303"/>
<rect x="5.9" y="47.900000000000006" width="7" height="0.6" fill="#999" opacity="0.55"/>
<rect x="6.8" y="50.0" width="1" height="0.6" fill="#aaa" opacity="0.6"/>
<rect x="17.2" y="53.2" width="7.6" height="2.4" fill="#050505"/>
<rect x="19" y="54.2" width="4" height="0.5" fill="#bbb" opacity="0.7"/>
</g></g>
<g font-size="16.8" font-weight="bold"><text transform="translate(33.90 58.30) scale(0.7834 1)">C</text><text transform="translate(43.39 58.30) scale(0.9193 1)">O</text><text transform="translate(55.39 58.30) scale(0.9749 1)">N</text><text transform="translate(67.21 58.30) scale(0.7575 1)">S</text><text transform="translate(75.69 58.30) scale(0.9663 1)">U</text><text transform="translate(87.40 58.30) scale(0.7399 1)">L</text><text transform="translate(94.98 58.30) scale(0.8969 1)">A</text><text transform="translate(105.85 58.30) scale(0.8333 1)">R</text></g>
<g font-size="16.8" font-weight="bold"><text transform="translate(45.00 80.30) scale(0.8966 1)">A</text><text transform="translate(55.87 80.30) scale(0.8029 1)">F</text><text transform="translate(64.10 80.30) scale(0.8029 1)">F</text><text transform="translate(72.33 80.30) scale(0.8127 1)">A</text><text transform="translate(82.21 80.30) scale(1.0089 1)">I</text><text transform="translate(86.96 80.30) scale(0.8330 1)">R</text><text transform="translate(97.05 80.30) scale(0.7416 1)">S</text></g>
<g font-size="16.2" font-weight="normal"><text transform="translate(51.20 102.15) scale(0.8526 1)">C</text><text transform="translate(60.96 102.15) scale(0.9913 1)">e</text><text transform="translate(69.89 102.15) scale(1.0467 1)">n</text><text transform="translate(79.52 102.15) scale(1.2037 1)">t</text><text transform="translate(85.15 102.15) scale(0.9698 1)">e</text><text transform="translate(93.88 102.15) scale(1.1600 1)">r</text></g>
<g font-size="35.4" font-weight="bold"><text transform="translate(166.10 62.90) scale(0.9165 1)">T</text><text transform="translate(185.91 62.90) scale(0.9933 1)">h</text><text transform="translate(207.39 62.90) scale(1.0235 1)">e</text><text transform="translate(232.05 62.90)"> </text><text transform="translate(236.58 62.90) scale(0.9870 1)">D</text><text transform="translate(261.80 62.90) scale(0.9995 1)">i</text><text transform="translate(271.63 62.90) scale(0.9933 1)">p</text><text transform="translate(293.10 62.90) scale(0.9995 1)">l</text><text transform="translate(302.93 62.90) scale(0.9951 1)">o</text><text transform="translate(324.44 62.90) scale(1.0344 1)">m</text><text transform="translate(356.99 62.90) scale(1.0036 1)">a</text><text transform="translate(376.75 62.90) scale(1.1456 1)">t</text><text transform="translate(390.25 62.90) scale(0.9717 1)">i</text><text transform="translate(399.80 62.90) scale(0.8507 1)">c</text><text transform="translate(421.07 62.90)"> </text><text transform="translate(425.60 62.90) scale(1.0036 1)">a</text><text transform="translate(445.35 62.90) scale(0.9933 1)">n</text><text transform="translate(466.82 62.90) scale(0.9933 1)">d</text><text transform="translate(492.82 62.90)"> </text><text transform="translate(497.28 62.90) scale(0.8333 1)">C</text><text transform="translate(518.52 62.90) scale(0.9951 1)">o</text><text transform="translate(540.03 62.90) scale(0.9933 1)">n</text><text transform="translate(561.29 62.90) scale(0.8333 1)">s</text><text transform="translate(577.47 62.90) scale(0.9933 1)">u</text><text transform="translate(598.94 62.90) scale(0.9995 1)">l</text><text transform="translate(608.77 62.90) scale(1.0036 1)">a</text><text transform="translate(628.53 62.90) scale(1.0328 1)">r</text><text transform="translate(647.27 62.90)"> </text><text transform="translate(651.80 62.90) scale(1.0313 1)">N</text><text transform="translate(678.16 62.90) scale(1.0235 1)">e</text><text transform="translate(698.30 62.90) scale(1.1539 1)">t</text><text transform="translate(711.90 62.90) scale(1.0831 1)">w</text><text transform="translate(741.72 62.90) scale(0.9797 1)">o</text><text transform="translate(762.90 62.90) scale(1.0328 1)">r</text><text transform="translate(777.12 62.90) scale(0.9758 1)">k</text><text transform="translate(795.94 62.90) scale(0.8333 1)">s</text></g>
<g font-size="35.4" font-weight="bold"><text transform="translate(166.76 110.90) scale(0.9829 1)">D</text><text transform="translate(191.88 110.90) scale(0.9995 1)">a</text><text transform="translate(211.55 110.90) scale(1.1409 1)">t</text><text transform="translate(225.00 110.90) scale(0.9797 1)">a</text><text transform="translate(244.28 110.90) scale(0.9892 1)">b</text><text transform="translate(265.67 110.90) scale(0.9995 1)">a</text><text transform="translate(285.25 110.90) scale(0.8167 1)">s</text><text transform="translate(301.24 110.90) scale(1.0193 1)">e</text><text transform="translate(325.81 110.90)"> </text><text transform="translate(330.31 110.90) scale(0.9995 1)">a</text><text transform="translate(349.98 110.90) scale(0.9892 1)">n</text><text transform="translate(371.37 110.90) scale(0.9892 1)">d</text><text transform="translate(397.26 110.90)"> </text><text transform="translate(401.76 110.90) scale(0.8779 1)">R</text><text transform="translate(424.20 110.90) scale(0.9995 1)">a</text><text transform="translate(443.87 110.90) scale(0.9892 1)">n</text><text transform="translate(465.26 110.90) scale(0.9718 1)">k</text><text transform="translate(484.39 110.90) scale(0.9954 1)">i</text><text transform="translate(494.18 110.90) scale(0.9892 1)">n</text><text transform="translate(515.56 110.90) scale(0.8740 1)">g</text><text transform="translate(534.37 110.90) scale(0.8167 1)">s</text></g>
<g font-size="29.7" font-weight="bold"><text transform="translate(32.80 191.60) scale(0.9056 1)">T</text><text transform="translate(49.08 191.60) scale(0.8408 1)">o</text><text transform="translate(64.19 191.60) scale(0.9816 1)">p</text><text transform="translate(85.74 191.60)"> </text><text transform="translate(89.49 191.60) scale(1.0182 1)">1</text><text transform="translate(106.30 191.60) scale(1.0182 1)">0</text><text transform="translate(126.86 191.60)"> </text><text transform="translate(130.61 191.60) scale(1.0452 1)">(</text><text transform="translate(140.94 191.60) scale(1.0703 1)">w</text><text transform="translate(165.66 191.60) scale(0.9682 1)">o</text><text transform="translate(183.22 191.60) scale(1.0206 1)">r</text><text transform="translate(195.01 191.60) scale(0.9877 1)">l</text><text transform="translate(203.15 191.60) scale(0.9816 1)">d</text><text transform="translate(220.95 191.60) scale(1.0452 1)">)</text></g>
<g font-size="29.7" font-weight="normal"><text transform="translate(239.70 191.60) scale(0.9587 1)">a</text><text transform="translate(255.53 191.60) scale(0.8707 1)">s</text><text transform="translate(272.19 191.60)"> </text><text transform="translate(275.92 191.60) scale(1.0554 1)">o</text><text transform="translate(293.51 191.60) scale(1.1844 1)">f</text><text transform="translate(307.17 191.60)"> </text><text transform="translate(309.95 191.60) scale(0.8389 1)">J</text><text transform="translate(321.44 191.60) scale(0.9587 1)">a</text><text transform="translate(337.27 191.60) scale(1.0515 1)">n</text><text transform="translate(354.63 191.60) scale(1.0515 1)">u</text><text transform="translate(371.99 191.60) scale(0.9587 1)">a</text><text transform="translate(387.82 191.60) scale(1.1653 1)">r</text><text transform="translate(399.34 191.60) scale(1.0185 1)">y</text><text transform="translate(418.20 191.60)"> </text><text transform="translate(421.93 191.60) scale(1.0144 1)">2</text><text transform="translate(438.68 191.60) scale(1.0144 1)">0</text><text transform="translate(455.43 191.60) scale(1.0144 1)">2</text><text transform="translate(472.18 191.60) scale(1.0144 1)">6</text></g>
<g font-size="24.08" font-weight="bold"><text transform="translate(37.50 278.90) scale(0.8852 1)">#</text></g>
<g font-size="24.08" font-weight="bold"><text transform="translate(96.72 279.00) scale(1.0370 1)">I</text><text transform="translate(103.66 279.00) scale(0.9494 1)">n</text><text transform="translate(120.57 279.00)"> </text><text transform="translate(123.51 279.00) scale(0.8132 1)">c</text><text transform="translate(134.40 279.00) scale(0.9554 1)">i</text><text transform="translate(140.79 279.00) scale(1.1251 1)">t</text><text transform="translate(149.81 279.00) scale(0.9204 1)">y</text></g>
<g font-size="24.08" font-weight="bold"><text transform="translate(374.29 278.90) scale(0.8141 1)">E</text><text transform="translate(387.37 278.90) scale(1.0184 1)">m</text><text transform="translate(409.17 278.90) scale(0.9779 1)">b</text><text transform="translate(423.55 278.90) scale(0.9880 1)">a</text><text transform="translate(436.79 278.90) scale(0.7985 1)">s</text><text transform="translate(447.48 278.90) scale(0.7985 1)">s</text><text transform="translate(458.17 278.90) scale(0.9840 1)">i</text><text transform="translate(464.75 278.90) scale(1.0076 1)">e</text><text transform="translate(478.25 278.90) scale(0.7985 1)">s</text></g>
<g font-size="24.08" font-weight="bold"><text transform="translate(374.70 310.80) scale(0.9827 1)">a</text><text transform="translate(387.86 310.80) scale(0.9726 1)">n</text><text transform="translate(402.16 310.80) scale(0.9726 1)">d</text><text transform="translate(419.48 310.80)"> </text><text transform="translate(422.49 310.80) scale(0.9726 1)">h</text><text transform="translate(436.80 310.80) scale(0.9787 1)">i</text><text transform="translate(443.35 310.80) scale(0.8593 1)">g</text><text transform="translate(455.98 310.80) scale(0.9726 1)">h</text></g>
<g font-size="24.08" font-weight="bold"><text transform="translate(375.30 342.70) scale(0.8258 1)">c</text><text transform="translate(386.36 342.70) scale(0.9572 1)">o</text><text transform="translate(400.44 342.70) scale(1.0041 1)">m</text><text transform="translate(421.93 342.70) scale(1.0041 1)">m</text><text transform="translate(443.43 342.70) scale(0.9702 1)">i</text><text transform="translate(449.92 342.70) scale(0.7873 1)">s</text><text transform="translate(460.46 342.70) scale(0.7873 1)">s</text><text transform="translate(471.01 342.70) scale(0.9702 1)">i</text><text transform="translate(477.50 342.70) scale(0.9659 1)">o</text><text transform="translate(491.70 342.70) scale(0.9642 1)">n</text><text transform="translate(505.89 342.70) scale(0.7873 1)">s</text></g>
<g font-size="24.08" font-weight="bold"><text transform="translate(560.60 278.90) scale(0.8143 1)">C</text><text transform="translate(574.76 278.90) scale(0.9778 1)">o</text><text transform="translate(589.14 278.90) scale(0.9760 1)">n</text><text transform="translate(603.50 278.90) scale(0.7969 1)">s</text><text transform="translate(614.17 278.90) scale(0.9760 1)">u</text><text transform="translate(628.52 278.90) scale(0.9821 1)">l</text><text transform="translate(635.09 278.90) scale(0.9862 1)">a</text><text transform="translate(648.34 278.90) scale(1.1145 1)">t</text><text transform="translate(657.32 278.90) scale(0.9813 1)">e</text><text transform="translate(670.46 278.90) scale(0.7969 1)">s</text></g>
<g font-size="24.08" font-weight="bold"><text transform="translate(715.80 278.90) scale(0.9360 1)">O</text><text transform="translate(733.33 278.90) scale(1.1208 1)">t</text><text transform="translate(742.32 278.90) scale(0.9458 1)">h</text><text transform="translate(756.23 278.90) scale(0.9745 1)">e</text><text transform="translate(769.28 278.90) scale(0.9834 1)">r</text></g>
<g font-size="24.08" font-weight="bold"><text transform="translate(715.51 310.90) scale(0.9656 1)">p</text><text transform="translate(729.71 310.90) scale(0.9673 1)">o</text><text transform="translate(743.94 310.90) scale(0.7884 1)">s</text><text transform="translate(754.56 310.90) scale(1.0917 1)">t</text><text transform="translate(763.37 310.90) scale(0.7884 1)">s</text></g>
<g font-size="24.08" font-weight="bold"><text transform="translate(821.70 278.90) scale(0.8843 1)">T</text><text transform="translate(834.67 278.90) scale(0.8103 1)">o</text><text transform="translate(846.56 278.90) scale(1.1357 1)">t</text><text transform="translate(855.66 278.90) scale(0.9492 1)">a</text><text transform="translate(868.37 278.90) scale(0.9644 1)">l</text></g>
<g font-size="24.08" font-weight="bold"><text transform="translate(821.00 310.90) scale(0.9690 1)">p</text><text transform="translate(835.26 310.90) scale(0.9708 1)">o</text><text transform="translate(849.53 310.90) scale(0.7912 1)">s</text><text transform="translate(860.19 310.90) scale(1.0956 1)">t</text><text transform="translate(869.04 310.90) scale(0.7912 1)">s</text></g>
<g font-size="24.91" font-weight="bold"><text transform="translate(36.80 388.90) scale(0.9754 1)">1</text></g>
<g font-size="21.12" font-weight="bold"><text transform="translate(149.00 387.80) scale(0.8825 1)">B</text><text transform="translate(162.45 387.80) scale(1.0385 1)">r</text><text transform="translate(170.98 387.80) scale(0.9988 1)">u</text><text transform="translate(183.86 387.80) scale(0.8155 1)">s</text><text transform="translate(193.44 387.80) scale(0.8155 1)">s</text><text transform="translate(203.01 387.80) scale(1.0291 1)">e</text><text transform="translate(215.09 387.80) scale(1.0051 1)">l</text><text transform="translate(220.99 387.80) scale(0.8155 1)">s</text></g>
<g font-size="21.79" font-weight="bold"><text transform="translate(368.60 387.80) scale(1.0042 1)">1</text><text transform="translate(380.76 387.80) scale(1.0042 1)">8</text><text transform="translate(392.93 387.80) scale(1.0042 1)">1</text></g>
<g font-size="21.79" font-weight="normal"><text transform="translate(555.10 387.80) scale(1.0042 1)">2</text></g>
<g font-size="21.79" font-weight="normal"><text transform="translate(709.90 387.80) scale(1.0042 1)">4</text></g>
<g font-size="21.79" font-weight="normal"><text transform="translate(815.00 387.80) scale(1.0042 1)">1</text><text transform="translate(827.16 387.80) scale(1.0042 1)">8</text><text transform="translate(839.33 387.80) scale(1.0042 1)">7</text></g>
<g font-size="24.91" font-weight="bold"><text transform="translate(36.80 435.32) scale(0.9754 1)">2</text></g>
<g font-size="21.12" font-weight="bold"><text transform="translate(149.00 434.15) scale(1.0916 1)">W</text><text transform="translate(170.75 434.15) scale(0.9353 1)">a</text><text transform="translate(181.64 434.15) scale(0.8304 1)">s</text><text transform="translate(191.30 434.15) scale(0.9988 1)">h</text><text transform="translate(204.18 434.15) scale(1.0051 1)">i</text><text transform="translate(210.08 434.15) scale(0.9988 1)">n</text><text transform="translate(222.96 434.15) scale(0.8825 1)">g</text><text transform="translate(234.34 434.15) scale(1.1586 1)">t</text><text transform="translate(242.48 434.15) scale(0.9824 1)">o</text><text transform="translate(255.15 434.15) scale(0.9988 1)">n</text><text transform="translate(268.03 434.15) scale(1.0550 1)">,</text><text transform="translate(276.93 434.15)"> </text><text transform="translate(279.64 434.15) scale(0.9924 1)">D</text><text transform="translate(294.77 434.15) scale(0.8333 1)">C</text></g>
<g font-size="21.79" font-weight="bold"><text transform="translate(368.60 434.15) scale(1.0042 1)">1</text><text transform="translate(380.76 434.15) scale(1.0042 1)">7</text><text transform="translate(392.93 434.15) scale(1.0042 1)">7</text></g>
<g font-size="21.79" font-weight="normal"><text transform="translate(555.10 434.15) scale(1.0042 1)">0</text></g>
<g font-size="21.79" font-weight="normal"><text transform="translate(709.90 434.15) scale(1.0042 1)">3</text></g>
<g font-size="21.79" font-weight="normal"><text transform="translate(815.00 434.15) scale(1.0042 1)">1</text><text transform="translate(827.16 434.15) scale(1.0042 1)">8</text><text transform="translate(839.33 434.15) scale(1.0042 1)">0</text></g>
<g font-size="24.91" font-weight="bold"><text transform="translate(36.80 481.74) scale(0.9754 1)">3</text></g>
<g font-size="21.12" font-weight="bold"><text transform="translate(149.00 480.50) scale(0.8825 1)">B</text><text transform="translate(162.45 480.50) scale(1.0291 1)">e</text><text transform="translate(174.54 480.50) scale(1.0051 1)">i</text><text transform="translate(180.43 480.50) scale(1.0450 1)">j</text><text transform="translate(186.56 480.50) scale(1.0051 1)">i</text><text transform="translate(192.45 480.50) scale(0.9988 1)">n</text><text transform="translate(205.33 480.50) scale(0.8825 1)">g</text></g>
<g font-size="21.79" font-weight="bold"><text transform="translate(368.60 480.50) scale(1.0042 1)">1</text><text transform="translate(380.76 480.50) scale(1.0042 1)">7</text><text transform="translate(392.93 480.50) scale(1.0042 1)">4</text></g>
<g font-size="21.79" font-weight="normal"><text transform="translate(555.10 480.50) scale(1.0042 1)">0</text></g>
<g font-size="21.79" font-weight="normal"><text transform="translate(709.90 480.50) scale(1.0042 1)">2</text></g>
<g font-size="21.79" font-weight="normal"><text transform="translate(815.00 480.50) scale(1.0042 1)">1</text><text transform="translate(827.16 480.50) scale(1.0042 1)">7</text><text transform="translate(839.33 480.50) scale(1.0042 1)">6</text></g>
<g font-size="24.91" font-weight="bold"><text transform="translate(36.80 528.16) scale(0.9754 1)">4</text></g>
<g font-size="21.12" font-weight="bold"><text transform="translate(148.82 526.85) scale(0.8154 1)">L</text><text transform="translate(159.15 526.85) scale(0.9715 1)">o</text><text transform="translate(171.68 526.85) scale(0.9988 1)">n</text><text transform="translate(184.55 526.85) scale(0.9988 1)">d</text><text transform="translate(197.43 526.85) scale(1.0006 1)">o</text><text transform="translate(210.34 526.85) scale(0.9988 1)">n</text></g>
<g font-size="21.79" font-weight="bold"><text transform="translate(368.60 526.85) scale(1.0042 1)">1</text><text transform="translate(380.76 526.85) scale(1.0042 1)">6</text><text transform="translate(392.93 526.85) scale(1.0042 1)">6</text></g>
<g font-size="21.79" font-weight="normal"><text transform="translate(555.10 526.85) scale(1.0042 1)">0</text></g>
<g font-size="21.79" font-weight="normal"><text transform="translate(709.90 526.85) scale(1.0042 1)">4</text></g>
<g font-size="21.79" font-weight="normal"><text transform="translate(815.00 526.85) scale(1.0042 1)">1</text><text transform="translate(827.16 526.85) scale(1.0042 1)">7</text><text transform="translate(839.33 526.85) scale(1.0042 1)">0</text></g>
<g font-size="24.91" font-weight="bold"><text transform="translate(36.80 574.58) scale(0.9754 1)">5</text></g>
<g font-size="21.12" font-weight="bold"><text transform="translate(149.00 573.20) scale(0.9072 1)">P</text><text transform="translate(161.77 573.20) scale(0.9692 1)">a</text><text transform="translate(173.15 573.20) scale(1.0385 1)">r</text><text transform="translate(181.68 573.20) scale(1.0051 1)">i</text><text transform="translate(187.58 573.20) scale(0.8155 1)">s</text></g>
<g font-size="21.79" font-weight="bold"><text transform="translate(368.60 573.20) scale(1.0042 1)">1</text><text transform="translate(380.76 573.20) scale(1.0042 1)">6</text><text transform="translate(392.93 573.20) scale(1.0042 1)">0</text></g>
<g font-size="21.79" font-weight="normal"><text transform="translate(555.10 573.20) scale(1.0042 1)">0</text></g>
<g font-size="21.79" font-weight="normal"><text transform="translate(709.90 573.20) scale(1.0042 1)">4</text></g>
<g font-size="21.79" font-weight="normal"><text transform="translate(815.00 573.20) scale(1.0042 1)">1</text><text transform="translate(827.16 573.20) scale(1.0042 1)">6</text><text transform="translate(839.33 573.20) scale(1.0042 1)">4</text></g>
<g font-size="24.91" font-weight="bold"><text transform="translate(36.80 621.00) scale(0.9754 1)">6</text></g>
<g font-size="21.12" font-weight="bold"><text transform="translate(149.00 619.55) scale(0.9215 1)">T</text><text transform="translate(160.88 619.55) scale(0.8398 1)">o</text><text transform="translate(171.71 619.55) scale(0.9812 1)">k</text><text transform="translate(183.23 619.55) scale(0.9682 1)">y</text><text transform="translate(194.60 619.55) scale(0.9806 1)">o</text></g>
<g font-size="21.79" font-weight="bold"><text transform="translate(368.60 619.55) scale(1.0042 1)">1</text><text transform="translate(380.76 619.55) scale(1.0042 1)">5</text><text transform="translate(392.93 619.55) scale(1.0042 1)">7</text></g>
<g font-size="21.79" font-weight="normal"><text transform="translate(555.10 619.55) scale(1.0042 1)">0</text></g>
<g font-size="21.79" font-weight="normal"><text transform="translate(709.90 619.55) scale(1.0042 1)">3</text></g>
<g font-size="21.79" font-weight="normal"><text transform="translate(815.00 619.55) scale(1.0042 1)">1</text><text transform="translate(827.16 619.55) scale(1.0042 1)">6</text><text transform="translate(839.33 619.55) scale(1.0042 1)">0</text></g>
<g font-size="24.91" font-weight="bold"><text transform="translate(36.80 667.42) scale(0.9754 1)">7</text></g>
<g font-size="21.12" font-weight="bold"><text transform="translate(149.00 665.90) scale(0.8825 1)">B</text><text transform="translate(162.45 665.90) scale(1.0291 1)">e</text><text transform="translate(174.54 665.90) scale(1.0385 1)">r</text><text transform="translate(183.07 665.90) scale(1.0051 1)">l</text><text transform="translate(188.96 665.90) scale(1.0051 1)">i</text><text transform="translate(194.86 665.90) scale(0.9988 1)">n</text></g>
<g font-size="21.79" font-weight="bold"><text transform="translate(368.60 665.90) scale(1.0042 1)">1</text><text transform="translate(380.76 665.90) scale(1.0042 1)">5</text><text transform="translate(392.93 665.90) scale(1.0042 1)">7</text></g>
<g font-size="21.79" font-weight="normal"><text transform="translate(555.10 665.90) scale(1.0042 1)">0</text></g>
<g font-size="21.79" font-weight="normal"><text transform="translate(709.90 665.90) scale(1.0042 1)">4</text></g>
<g font-size="21.79" font-weight="normal"><text transform="translate(815.00 665.90) scale(1.0042 1)">1</text><text transform="translate(827.16 665.90) scale(1.0042 1)">6</text><text transform="translate(839.33 665.90) scale(1.0042 1)">1</text></g>
<g font-size="24.91" font-weight="bold"><text transform="translate(36.80 713.84) scale(0.9754 1)">8</text></g>
<g font-size="21.12" font-weight="bold"><text transform="translate(149.00 712.25) scale(1.0370 1)">N</text><text transform="translate(164.81 712.25) scale(1.0291 1)">e</text><text transform="translate(176.89 712.25) scale(1.0820 1)">w</text><text transform="translate(197.37 712.25)"> </text><text transform="translate(200.08 712.25) scale(0.9924 1)">D</text><text transform="translate(215.21 712.25) scale(1.0291 1)">e</text><text transform="translate(227.29 712.25) scale(1.0051 1)">l</text><text transform="translate(233.19 712.25) scale(0.9988 1)">h</text><text transform="translate(246.07 712.25) scale(1.0051 1)">i</text></g>
<g font-size="21.79" font-weight="bold"><text transform="translate(368.60 712.25) scale(1.0042 1)">1</text><text transform="translate(380.76 712.25) scale(1.0042 1)">5</text><text transform="translate(392.93 712.25) scale(1.0042 1)">4</text></g>
<g font-size="21.79" font-weight="normal"><text transform="translate(555.10 712.25) scale(1.0042 1)">0</text></g>
<g font-size="21.79" font-weight="normal"><text transform="translate(709.90 712.25) scale(1.0042 1)">2</text></g>
<g font-size="21.79" font-weight="normal"><text transform="translate(815.00 712.25) scale(1.0042 1)">1</text><text transform="translate(827.16 712.25) scale(1.0042 1)">5</text><text transform="translate(839.33 712.25) scale(1.0042 1)">6</text></g>
<g font-size="24.91" font-weight="bold"><text transform="translate(36.80 760.26) scale(0.9754 1)">9</text></g>
<g font-size="21.12" font-weight="bold"><text transform="translate(149.00 758.60) scale(1.1929 1)">M</text><text transform="translate(169.98 758.60) scale(1.0006 1)">o</text><text transform="translate(182.63 758.60) scale(0.8586 1)">s</text><text transform="translate(192.43 758.60) scale(0.8586 1)">c</text><text transform="translate(202.50 758.60) scale(0.9915 1)">o</text><text transform="translate(215.28 758.60) scale(1.0863 1)">w</text></g>
<g font-size="21.79" font-weight="bold"><text transform="translate(368.60 758.60) scale(1.0042 1)">1</text><text transform="translate(380.76 758.60) scale(1.0042 1)">5</text><text transform="translate(392.93 758.60) scale(1.0042 1)">0</text></g>
<g font-size="21.79" font-weight="normal"><text transform="translate(555.10 758.60) scale(1.0042 1)">0</text></g>
<g font-size="21.79" font-weight="normal"><text transform="translate(709.90 758.60) scale(1.0042 1)">4</text></g>
<g font-size="21.79" font-weight="normal"><text transform="translate(815.00 758.60) scale(1.0042 1)">1</text><text transform="translate(827.16 758.60) scale(1.0042 1)">5</text><text transform="translate(839.33 758.60) scale(1.0042 1)">4</text></g>
<g font-size="24.91" font-weight="bold"><text transform="translate(36.80 806.68) scale(0.9754 1)">1</text><text transform="translate(50.31 806.68) scale(0.9754 1)">0</text></g>
<g font-size="21.12" font-weight="bold"><text transform="translate(149.00 804.95) scale(0.8333 1)">C</text><text transform="translate(161.70 804.95) scale(1.0092 1)">a</text><text transform="translate(173.55 804.95) scale(1.0051 1)">i</text><text transform="translate(179.45 804.95) scale(1.0385 1)">r</text><text transform="translate(187.98 804.95) scale(0.9779 1)">o</text></g>
<g font-size="21.79" font-weight="bold"><text transform="translate(368.60 804.95) scale(1.0042 1)">1</text><text transform="translate(380.76 804.95) scale(1.0042 1)">4</text><text transform="translate(392.93 804.95) scale(1.0042 1)">1</text></g>
<g font-size="21.79" font-weight="normal"><text transform="translate(555.10 804.95) scale(1.0042 1)">0</text></g>
<g font-size="21.79" font-weight="normal"><text transform="translate(709.90 804.95) scale(1.0042 1)">2</text></g>
<g font-size="21.79" font-weight="normal"><text transform="translate(815.00 804.95) scale(1.0042 1)">1</text><text transform="translate(827.16 804.95) scale(1.0042 1)">4</text><text transform="translate(839.33 804.95) scale(1.0042 1)">3</text></g>
<g font-size="20.93" font-weight="normal"><text transform="translate(198.00 905.60) scale(0.9939 1)">A</text><text transform="translate(211.87 905.60) scale(0.9689 1)">c</text><text transform="translate(222.00 905.60) scale(0.9689 1)">c</text><text transform="translate(232.14 905.60) scale(1.0250 1)">e</text><text transform="translate(244.07 905.60) scale(0.8962 1)">s</text><text transform="translate(253.44 905.60) scale(0.8962 1)">s</text><text transform="translate(265.52 905.60)"> </text><text transform="translate(268.61 905.60) scale(1.2511 1)">t</text><text transform="translate(276.26 905.60) scale(1.0823 1)">h</text><text transform="translate(288.86 905.60) scale(1.0250 1)">e</text><text transform="translate(303.49 905.60)"> </text><text transform="translate(306.20 905.60) scale(1.0986 1)">m</text><text transform="translate(325.35 905.60) scale(1.0250 1)">e</text><text transform="translate(337.59 905.60) scale(1.2511 1)">t</text><text transform="translate(345.17 905.60) scale(1.0823 1)">h</text><text transform="translate(357.77 905.60) scale(1.0863 1)">o</text><text transform="translate(370.41 905.60) scale(1.0823 1)">d</text><text transform="translate(383.00 905.60) scale(1.0863 1)">o</text><text transform="translate(395.64 905.60) scale(1.1834 1)">l</text><text transform="translate(401.14 905.60) scale(1.0863 1)">o</text><text transform="translate(413.78 905.60) scale(0.9696 1)">g</text><text transform="translate(425.06 905.60) scale(1.0371 1)">y</text><text transform="translate(438.62 905.60)"> </text><text transform="translate(441.33 905.60) scale(0.9867 1)">a</text><text transform="translate(452.81 905.60) scale(1.0823 1)">n</text><text transform="translate(465.41 905.60) scale(1.0823 1)">d</text><text transform="translate(480.71 905.60)"> </text><text transform="translate(483.42 905.60) scale(1.0823 1)">p</text><text transform="translate(496.01 905.60) scale(1.1994 1)">r</text><text transform="translate(504.37 905.60) scale(1.0531 1)">o</text><text transform="translate(516.62 905.60) scale(1.0823 1)">p</text><text transform="translate(529.22 905.60) scale(1.0863 1)">o</text><text transform="translate(541.86 905.60) scale(0.8962 1)">s</text><text transform="translate(551.23 905.60) scale(1.0250 1)">e</text><text transform="translate(565.87 905.60)"> </text><text transform="translate(568.58 905.60) scale(1.0823 1)">u</text><text transform="translate(581.17 905.60) scale(1.0823 1)">p</text><text transform="translate(593.76 905.60) scale(1.0823 1)">d</text><text transform="translate(606.36 905.60) scale(0.9867 1)">a</text><text transform="translate(618.10 905.60) scale(1.2511 1)">t</text><text transform="translate(625.64 905.60) scale(1.0028 1)">e</text><text transform="translate(637.31 905.60) scale(0.8962 1)">s</text></g>
<g font-size="20.93" font-weight="normal"><text transform="translate(198.75 934.60) scale(0.9262 1)">G</text><text transform="translate(213.82 934.60) scale(1.0828 1)">o</text><text transform="translate(229.12 934.60)"> </text><text transform="translate(232.03 934.60) scale(1.3044 1)">t</text><text transform="translate(239.82 934.60) scale(1.0627 1)">o</text><text transform="translate(254.89 934.60)"> </text><text transform="translate(257.59 934.60) scale(1.0788 1)">h</text><text transform="translate(270.24 934.60) scale(1.3044 1)">t</text><text transform="translate(277.92 934.60) scale(1.2302 1)">t</text><text transform="translate(285.08 934.60) scale(1.0788 1)">p</text><text transform="translate(297.41 934.60) scale(0.9240 1)">s</text><text transform="translate(306.86 934.60) scale(1.0998 1)">:</text><text transform="translate(314.07 934.60) scale(1.3044 1)">/</text><text transform="translate(323.30 934.60) scale(1.3044 1)">/</text><text transform="translate(331.70 934.60) scale(1.1303 1)">w</text><text transform="translate(348.78 934.60) scale(1.1365 1)">w</text><text transform="translate(365.95 934.60) scale(1.1365 1)">w</text><text transform="translate(382.69 934.60) scale(0.9240 1)">.</text><text transform="translate(387.63 934.60) scale(0.9657 1)">c</text><text transform="translate(397.73 934.60) scale(1.0657 1)">o</text><text transform="translate(410.13 934.60) scale(1.0788 1)">n</text><text transform="translate(422.52 934.60) scale(0.9240 1)">s</text><text transform="translate(432.03 934.60) scale(1.0788 1)">u</text><text transform="translate(444.58 934.60) scale(1.1796 1)">l</text><text transform="translate(450.06 934.60) scale(0.9835 1)">a</text><text transform="translate(461.51 934.60) scale(1.1955 1)">r</text><text transform="translate(469.84 934.60) scale(0.9414 1)">a</text><text transform="translate(480.79 934.60) scale(1.2302 1)">f</text><text transform="translate(487.94 934.60) scale(1.1439 1)">f</text><text transform="translate(494.59 934.60) scale(0.9434 1)">a</text><text transform="translate(505.57 934.60) scale(1.1796 1)">i</text><text transform="translate(511.05 934.60) scale(1.1955 1)">r</text><text transform="translate(519.01 934.60) scale(0.9240 1)">s</text><text transform="translate(528.32 934.60) scale(1.0376 1)">.</text><text transform="translate(534.35 934.60) scale(1.0828 1)">o</text><text transform="translate(546.95 934.60) scale(1.1955 1)">r</text><text transform="translate(555.27 934.60) scale(0.9384 1)">g</text><text transform="translate(567.44 934.60) scale(1.3044 1)">/</text></g>
</svg>
</body></html>
